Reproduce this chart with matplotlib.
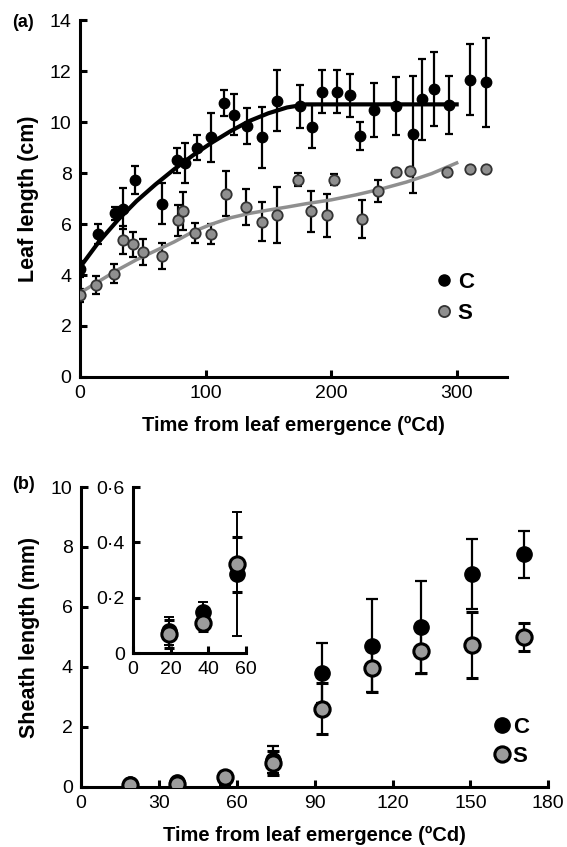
import numpy as np
import matplotlib.pyplot as plt
from matplotlib.lines import Line2D

plt.rcParams['font.family'] = ['Liberation Sans', 'DejaVu Sans']

# --------------------------
# Panel (a): leaf length (cm)
# --------------------------
t_c = [0, 14, 28, 34, 44, 65, 77, 84, 93, 104, 115, 123, 133, 145, 157, 175, 185,
       193, 205, 215, 223, 234, 252, 265, 272, 282, 294, 311, 323]
len_c = [4.24, 5.6, 6.43, 6.6, 7.72, 6.8, 8.5, 8.4, 9.0, 9.4, 10.75, 10.3, 9.85, 9.4,
         10.85, 10.63, 9.82, 11.2, 11.2, 11.06, 9.45, 10.47, 10.63, 9.53, 10.9, 11.3,
         10.67, 11.67, 11.57]
err_c = [0.3, 0.4, 0.25, 0.8, 0.55, 0.8, 0.5, 0.8, 0.5, 0.95, 0.5, 0.8, 0.7, 1.2,
         1.2, 0.85, 0.85, 0.85, 0.85, 0.85, 0.55, 1.05, 1.15, 2.3, 1.6, 1.45, 1.15,
         1.4, 1.75]

t_s = [0, 13, 27, 34, 42, 50, 65, 78, 82, 92, 104, 116, 132, 145, 157, 174, 184,
       197, 202, 225, 237, 252, 263, 292, 311, 323]
len_s = [3.2, 3.6, 4.05, 5.37, 5.2, 4.9, 4.75, 6.15, 6.5, 5.65, 5.6, 7.2, 6.67, 6.1,
         6.35, 7.75, 6.5, 6.35, 7.75, 6.2, 7.3, 8.05, 8.1, 8.05, 8.15, 8.15]
err_s = [0.25, 0.35, 0.37, 0.55, 0.5, 0.5, 0.5, 0.6, 0.75, 0.4, 0.4, 0.9, 0.7, 0.75,
         1.1, 0.25, 0.8, 0.85, 0.2, 0.73, 0.45, 0.1, 0.1, 0.1, 0.1, 0.1]

# fitted curves
fit_t_c = [0, 15, 30, 45, 60, 75, 90, 105, 120, 135, 150, 165, 180, 300]
fit_c = [4.3, 5.3, 6.15, 6.9, 7.55, 8.15, 8.7, 9.2, 9.65, 10.05, 10.35, 10.58, 10.7, 10.7]
fit_t_s = [0, 15, 30, 45, 60, 75, 90, 105, 120, 135, 150, 165, 180, 200, 220, 240,
           260, 280, 300]
fit_s = [3.3, 3.75, 4.2, 4.6, 4.95, 5.3, 5.7, 6.0, 6.25, 6.42, 6.55, 6.67, 6.8, 6.95,
         7.15, 7.38, 7.65, 7.98, 8.4]

# --------------------------
# Panel (b): sheath length (mm)
# --------------------------
t_b = [19, 37, 55.5, 74, 93, 112, 131, 150.5, 170.5]
sh_c = [0.08, 0.15, 0.285, 0.9, 3.8, 4.7, 5.33, 7.1, 7.75]
sh_c_err = [0.05, 0.035, 0.225, 0.45, 1.0, 1.55, 1.55, 1.17, 0.78]
sh_s = [0.07, 0.11, 0.32, 0.78, 2.6, 3.97, 4.53, 4.72, 5.0]
sh_s_err = [0.05, 0.03, 0.1, 0.4, 0.85, 0.8, 0.73, 1.1, 0.47]

gray_a = '#8f8f8f'
gray_b = '#9c9c9c'

fig = plt.figure(figsize=(5.67, 8.47), dpi=100)


def style_axes(ax, lw=2.2, fs=14):
    for s in ['top', 'right']:
        ax.spines[s].set_visible(False)
    for s in ['left', 'bottom']:
        ax.spines[s].set_linewidth(lw)
    ax.tick_params(direction='in', length=5, width=lw, labelsize=fs, pad=6)


# ----- (a) -----
ax1 = fig.add_axes([0.141, 0.555, 0.753, 0.421])
ax1.errorbar(t_c, len_c, yerr=err_c, fmt='none', ecolor='black', elinewidth=1.6,
             capsize=3, capthick=1.6, zorder=2)
ax1.errorbar(t_s, len_s, yerr=err_s, fmt='none', ecolor='black', elinewidth=1.6,
             capsize=3, capthick=1.6, zorder=2)
ax1.plot(fit_t_c, fit_c, color='black', lw=3, zorder=3)
ax1.plot(fit_t_s, fit_s, color=gray_a, lw=2.5, zorder=3)
ax1.plot(t_c, len_c, 'o', color='black', ms=7.5, zorder=4)
ax1.plot(t_s, len_s, 'o', mfc=gray_a, mec='#333333', mew=1.3, ms=7.5, zorder=4)
ax1.set_xlim(0, 340)
ax1.set_ylim(0, 14)
ax1.set_xticks([0, 100, 200, 300])
ax1.set_yticks(range(0, 15, 2))
style_axes(ax1)
ax1.set_xlabel('Time from leaf emergence (ºCd)', fontsize=14.5, fontweight='bold',
               labelpad=10)
ax1.set_ylabel('Leaf length (cm)', fontsize=15.5, fontweight='bold', labelpad=8)
fig.text(0.022, 0.974, '(a)', fontsize=13, fontweight='bold', va='center')

h1 = [Line2D([], [], ls='none', marker='o', color='black', ms=8),
      Line2D([], [], ls='none', marker='o', mfc=gray_a, mec='#333333', mew=1.3, ms=8)]
ax1.legend(h1, ['C', 'S'], loc='center', bbox_to_anchor=(0.88, 0.222), frameon=False,
           prop={'weight': 'bold', 'size': 16}, handlelength=0.6, handletextpad=0.3,
           labelspacing=0.45, borderpad=0)

# ----- (b) -----
ax2 = fig.add_axes([0.143, 0.071, 0.824, 0.354])
ax2.errorbar(t_b, sh_c, yerr=sh_c_err, fmt='o', color='black', ecolor='black',
             elinewidth=1.6, capsize=4, capthick=1.6, ms=11, zorder=3)
ax2.errorbar(t_b, sh_s, yerr=sh_s_err, fmt='o', mfc=gray_b, mec='black', mew=2.2,
             ecolor='black', elinewidth=1.6, capsize=4, capthick=1.6, ms=11, zorder=4)
ax2.set_xlim(0, 180)
ax2.set_ylim(0, 10)
ax2.set_xticks(range(0, 181, 30))
ax2.set_yticks(range(0, 11, 2))
style_axes(ax2)
ax2.set_xlabel('Time from leaf emergence (ºCd)', fontsize=14.5, fontweight='bold',
               labelpad=10)
ax2.set_ylabel('Sheath length (mm)', fontsize=15.5, fontweight='bold', labelpad=8)
fig.text(0.022, 0.428, '(b)', fontsize=13, fontweight='bold', va='center')

h2 = [Line2D([], [], ls='none', marker='o', color='black', ms=11),
      Line2D([], [], ls='none', marker='o', mfc=gray_b, mec='black', mew=2.2, ms=11)]
ax2.legend(h2, ['C', 'S'], loc='center', bbox_to_anchor=(0.922, 0.15), frameon=False,
           prop={'weight': 'bold', 'size': 16}, handlelength=0.6, handletextpad=0.2,
           labelspacing=0.35, borderpad=0)

# inset
ax3 = fig.add_axes([0.2346, 0.229, 0.199, 0.196])
n = 3
ax3.errorbar(t_b[:n], sh_c[:n], yerr=sh_c_err[:n], fmt='o', color='black',
             ecolor='black', elinewidth=1.4, capsize=3.5, capthick=1.4, ms=11, zorder=3)
ax3.errorbar(t_b[:n], sh_s[:n], yerr=sh_s_err[:n], fmt='o', mfc=gray_b, mec='black',
             mew=2.2, ecolor='black', elinewidth=1.4, capsize=3.5, capthick=1.4, ms=11,
             zorder=4)
ax3.set_xlim(0, 60)
ax3.set_ylim(0, 0.6)
ax3.set_xticks([0, 20, 40, 60])
ax3.set_yticks([0, 0.2, 0.4, 0.6])
ax3.set_yticklabels(['0', '0·2', '0·4', '0·6'])
style_axes(ax3)
ax3.patch.set_alpha(0)

fig.savefig('out.png', dpi=100)
